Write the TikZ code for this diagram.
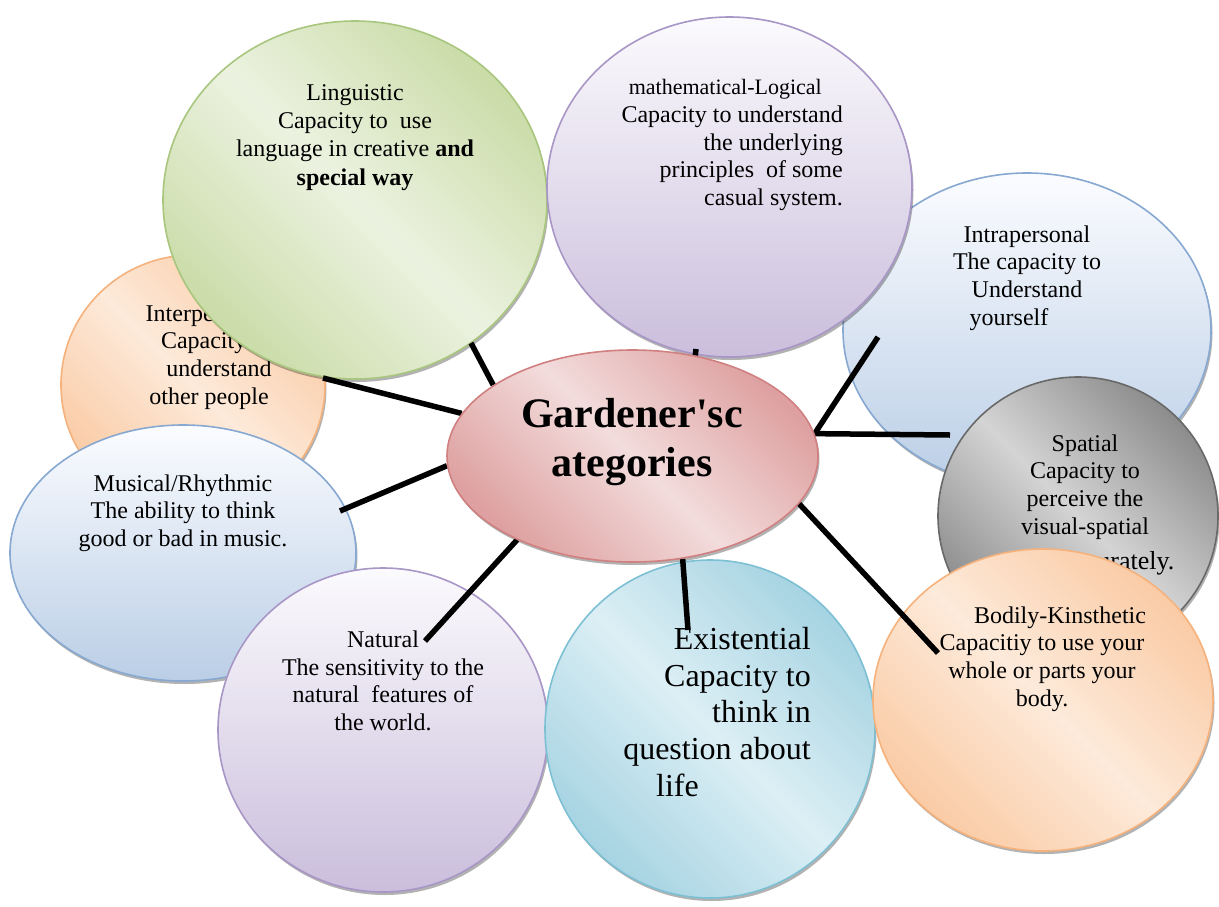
\documentclass[tikz,border=0pt]{standalone}
\usepackage{fontspec}
\setmainfont{Liberation Serif}
\newfontfamily\cenfont[Ligatures=TeXOff]{Liberation Serif}
\usetikzlibrary{shapes.geometric,shadows}
\pgfdeclarelayer{links}
\pgfdeclarelayer{front}
\pgfsetlayers{main,links,front}
\definecolor{orEdge}{RGB}{245,178,125}
\definecolor{orDark}{RGB}{250,203,165}
\definecolor{orLight}{RGB}{253,234,218}
\definecolor{grEdge}{RGB}{168,198,125}
\definecolor{grDark}{RGB}{202,220,168}
\definecolor{grLight}{RGB}{236,242,224}
\definecolor{puEdge}{RGB}{168,150,198}
\definecolor{puTop}{RGB}{251,250,253}
\definecolor{puBot}{RGB}{202,190,220}
\definecolor{blEdge}{RGB}{135,168,208}
\definecolor{blTop}{RGB}{251,252,255}
\definecolor{blBot}{RGB}{186,206,230}
\definecolor{gyEdge}{RGB}{105,105,105}
\definecolor{gyDark}{RGB}{140,140,140}
\definecolor{gyLight}{RGB}{212,212,212}
\definecolor{cyEdge}{RGB}{125,192,212}
\definecolor{cyDark}{RGB}{166,211,226}
\definecolor{cyLight}{RGB}{220,239,245}
\definecolor{pkEdge}{RGB}{208,128,128}
\definecolor{pkDark}{RGB}{222,160,160}
\definecolor{pkLight}{RGB}{243,220,220}
\tikzset{
  bubble/.style={ellipse, inner sep=0pt, line width=1.6pt,
    drop shadow={shadow xshift=1.5pt, shadow yshift=-3pt, opacity=0.3, fill=black}},
  diag/.style n args={3}{draw=#1, top color=#2, bottom color=#2, middle color=#3, shading angle=-45},
  vert/.style n args={3}{draw=#1, top color=#2, bottom color=#3},
  lbl/.style={align=center, inner sep=0pt, text=black, font=\fontsize{24}{27.6}\selectfont},
  link/.style={line width=5.5pt, black},
}
\begin{document}
\begin{tikzpicture}[x=1pt, y=-1pt]
\fill[white] (0,0) rectangle (1219,906);
\useasboundingbox (0,0) rectangle (1219,906);

% Interpersonal
\node[bubble, diag={orEdge}{orDark}{orLight}, minimum width=264pt, minimum height=260pt] (inter) at (193,385) {};
\node[lbl] (tInter) at (209,357) {Interpersonal\\\hspace*{14pt}Capacity to\\\hspace*{20pt}understand\\other people};
% Intrapersonal
\node[bubble, vert={blEdge}{blTop}{blBot}, minimum width=368pt, minimum height=314pt] (intra) at (1027,330) {};
\node[lbl] (tIntra) at (1027,278) {Intrapersonal\\The capacity to\\Understand\\yourself\hspace*{36pt}\mbox{}};
% Linguistic
\node[bubble, diag={grEdge}{grDark}{grLight}, minimum width=384pt, minimum height=358pt] (ling) at (355,200) {};
\node[lbl] (tLing) at (355,138) {Linguistic\\Capacity to\ \ use\\language in creative \textbf{and}\\[2pt]\textbf{special way}};
% Mathematical-Logical
\node[bubble, vert={puEdge}{puTop}{puBot}, minimum width=365pt, minimum height=340pt] (math) at (729.5,187) {};
\node[lbl, align=right, anchor=east] (tMath) at (843,145) {{\fontsize{22}{27.6}\selectfont mathematical-Logical}\hspace*{21pt}\mbox{}\\Capacity to understand\\the underlying\\principles\ \ of some\\casual system.};
% Musical
\node[bubble, vert={blEdge}{blTop}{blBot}, minimum width=346pt, minimum height=256pt] (mus) at (183,553) {};
\node[lbl] (tMus) at (183,513) {Musical/Rhythmic\\The ability to think\\good or bad in music.};
% Natural
\node[bubble, vert={puEdge}{puTop}{puBot}, minimum width=330pt, minimum height=324pt] (nat) at (383,730) {};
\node[lbl] (tNat) at (383,681) {Natural\\The sensitivity to the\\natural\ \ features of\\the world.};
% Existential
\node[bubble, diag={cyEdge}{cyDark}{cyLight}, minimum width=330pt, minimum height=338pt] (exis) at (710,729) {};
\node[lbl, align=right, anchor=east, font=\fontsize{32}{36.8}\selectfont] (tExis) at (811,712) {Existential\\Capacity to\\think in\\question about\\life\hspace*{112pt}\mbox{}};
% Spatial
\node[bubble, diag={gyEdge}{gyDark}{gyLight}, minimum width=280pt, minimum height=278pt] (spat) at (1078,516) {};
\node[lbl] (tSpat) at (1085,505) {Spatial\\Capacity to\\perceive the\\visual-spatial\\[8pt]{\fontsize{26}{30}\selectfont world accurately.}};
% Bodily-Kinesthetic
\node[bubble, diag={orEdge}{orDark}{orLight}, minimum width=340pt, minimum height=302pt] (bod) at (1043,700) {};
\node[lbl] (tBod) at (1042,659) {\hspace*{36pt}Bodily-Kinsthetic\\Capacitiy to use your\\whole or parts your\\body.};

% Centre
\begin{pgfonlayer}{front}
\node[bubble, diag={pkEdge}{pkDark}{pkLight}, minimum width=371pt, minimum height=212pt] (cen) at (632.5,456) {};
\node[align=center, inner sep=0pt, font=\cenfont\fontsize{42}{48.3}\selectfont\bfseries] (tCen) at (632,442) {Gardener's\-c\\ategories};
\end{pgfonlayer}

% Connectors
\coordinate (eLing) at (471,343);
\coordinate (eInter) at (323,378);
\coordinate (eMus) at (340,511);
\coordinate (eNat) at (425,641);
\coordinate (eExis) at (688,630);
\coordinate (eBod) at (938,653);
\coordinate (eIntra) at (878,337);
\coordinate (eSpat) at (950,435);
\coordinate (eMath) at (696,349);
\begin{pgfonlayer}{links}
\draw[link] (cen.153) -- (eLing);
\draw[link] (cen.166) -- (eInter);
\draw[link] (cen.183) -- (eMus);
\draw[link] (cen.216) -- (eNat);
\draw[link] (cen.296) -- (eExis);
\draw[link] (cen.344) -- (eBod);
\draw[link] (cen.7) -- (eIntra);
\draw[link] (cen.7) -- (eSpat);
\draw[link] (cen.58) -- (eMath);
\end{pgfonlayer}
\end{tikzpicture}
\end{document}
